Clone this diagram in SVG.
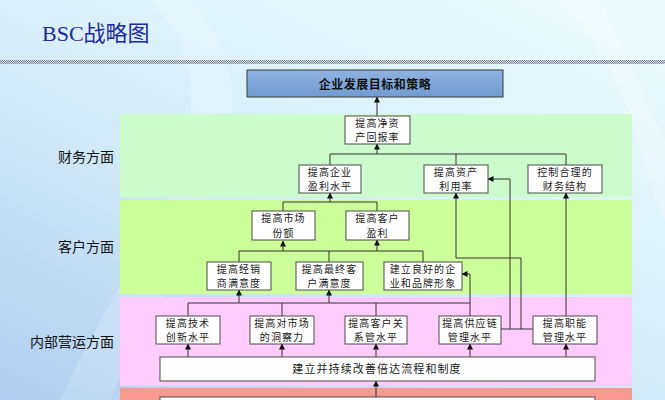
<svg xmlns="http://www.w3.org/2000/svg" width="665" height="400" viewBox="0 0 665 400">
<defs>
<linearGradient id="bg" x1="0" y1="1" x2="0.8" y2="0">
<stop offset="0" stop-color="#aecdf0"/>
<stop offset="0.5" stop-color="#d4ecf8"/>
<stop offset="1" stop-color="#eafafd"/>
</linearGradient>
<linearGradient id="topbox" x1="0" y1="0" x2="0" y2="1">
<stop offset="0" stop-color="#8fb3e2"/>
<stop offset="1" stop-color="#709bd2"/>
</linearGradient>
<pattern id="dots" width="2" height="2" patternUnits="userSpaceOnUse">
<rect width="2" height="2" fill="#d6dde6"/>
<rect width="1" height="1" fill="#7d8696"/>
<rect x="1" y="1" width="1" height="1" fill="#7d8696"/>
</pattern>
<marker id="ah" markerWidth="6" markerHeight="6" refX="5.5" refY="3" orient="auto" markerUnits="userSpaceOnUse">
<path d="M0,0 L6,3 L0,6 Z" fill="#111"/>
</marker>
<style>
.node rect{fill:#fff;stroke:#4a4a4a;stroke-width:1}
.node text{font-family:"Noto Sans CJK SC","Noto Sans",sans-serif;font-size:10px;fill:#222;text-anchor:middle;letter-spacing:1.1px}
.lbl{font-family:"Noto Sans CJK SC","Noto Sans",sans-serif;font-size:14px;fill:#111;text-anchor:end}
#connectors path,#connectors line{fill:none;stroke:#333;stroke-width:1}
.arr{marker-end:url(#ah)}
</style>
</defs>
<rect width="665" height="400" fill="url(#bg)"/>
<path d="M150,0 C260,120 120,260 60,400 L110,400 C170,260 300,120 190,0 Z" fill="#ffffff" opacity="0.18"/>
<path d="M560,0 C640,80 640,180 665,220 L665,140 C640,90 620,40 600,0 Z" fill="#ffffff" opacity="0.25"/>

<text x="42" y="41" font-family="Liberation Serif,'Noto Sans CJK SC',serif" font-size="22" fill="#1c2c9c">BSC战略图</text>
<rect x="0" y="60" width="665" height="4" fill="url(#dots)"/>

<!-- bands -->
<rect x="120" y="114" width="512" height="83" fill="#ccfccc"/>
<rect x="120" y="200" width="512" height="94" fill="#ccff99"/>
<rect x="120" y="297" width="512" height="89" fill="#ffccfc"/>
<rect x="120" y="388" width="512" height="12" fill="#f89a92"/>

<text class="lbl" x="114" y="162">财务方面</text>
<text class="lbl" x="114" y="252">客户方面</text>
<text class="lbl" x="114" y="347">内部营运方面</text>

<g id="connectors">
<line class="arr" x1="377" y1="116" x2="377" y2="97"/>
<path d="M330,165 V154 H566 V165 M456,154 V165"/>
<line class="arr" x1="377" y1="154" x2="377" y2="144"/>
<path d="M283,211 V202 H377 V211"/>
<line class="arr" x1="330" y1="202" x2="330" y2="193"/>
<path d="M239,262 V251 H423 V262 M329,251 V262"/>
<line class="arr" x1="283" y1="251" x2="283" y2="241"/>
<line class="arr" x1="377" y1="251" x2="377" y2="240"/>
<path d="M188,316 V303 H470 M282,303 V316 M376,303 V316"/>
<line class="arr" x1="239" y1="303" x2="239" y2="290"/>
<line class="arr" x1="329" y1="303" x2="329" y2="290"/>
<path class="arr" d="M470,316 V274 H462"/>
<path d="M501,329 H533"/>
<path class="arr" d="M510,329 V179 H488"/>
<path class="arr" d="M521,329 V258 H456 V193"/>
<line class="arr" x1="566" y1="316" x2="566" y2="193"/>
<line class="arr" x1="188" y1="357" x2="188" y2="344"/>
<line class="arr" x1="282" y1="357" x2="282" y2="344"/>
<line class="arr" x1="376" y1="357" x2="376" y2="344"/>
<line class="arr" x1="470" y1="357" x2="470" y2="344"/>
<line class="arr" x1="566" y1="357" x2="566" y2="344"/>
<line class="arr" x1="376" y1="397" x2="376" y2="381"/>
</g>

<g id="top">
<rect x="247" y="70" width="256" height="27" fill="url(#topbox)" stroke="#3a3a3a" stroke-width="1"/>
<text x="375" y="88.5" font-family="'Noto Sans CJK SC',sans-serif" font-size="12" font-weight="bold" fill="#111" text-anchor="middle" letter-spacing="0.5">企业发展目标和策略</text>
</g>

<g id="n1" class="node"><rect x="345" y="116" width="65" height="28"/><text x="377.5" y="126.8">提高净资<tspan x="377.5" dy="14.5">产回报率</tspan></text></g>
<g id="f1" class="node"><rect x="299" y="165" width="62" height="28"/><text x="330" y="175.8">提高企业<tspan x="330" dy="14.5">盈利水平</tspan></text></g>
<g id="f2" class="node"><rect x="424" y="165" width="64" height="28"/><text x="456" y="175.8">提高资产<tspan x="456" dy="14.5">利用率</tspan></text></g>
<g id="f3" class="node"><rect x="528" y="165" width="74" height="28"/><text x="565" y="175.8">控制合理的<tspan x="565" dy="14.5">财务结构</tspan></text></g>

<g id="c1" class="node"><rect x="252" y="211" width="63" height="29"/><text x="283.5" y="222.3">提高市场<tspan x="283.5" dy="14.5">份额</tspan></text></g>
<g id="c2" class="node"><rect x="346" y="211" width="63" height="29"/><text x="377.5" y="222.3">提高客户<tspan x="377.5" dy="14.5">盈利</tspan></text></g>
<g id="c3" class="node"><rect x="207" y="262" width="64" height="28"/><text x="239" y="272.8">提高经销<tspan x="239" dy="14.5">商满意度</tspan></text></g>
<g id="c4" class="node"><rect x="296" y="262" width="67" height="28"/><text x="329.5" y="272.8">提高最终客<tspan x="329.5" dy="14.5">户满意度</tspan></text></g>
<g id="c5" class="node"><rect x="384" y="262" width="78" height="28"/><text x="423" y="272.8">建立良好的企<tspan x="423" dy="14.5">业和品牌形象</tspan></text></g>

<g id="i1" class="node"><rect x="156" y="316" width="64" height="28"/><text x="188" y="326.8">提高技术<tspan x="188" dy="14.5">创新水平</tspan></text></g>
<g id="i2" class="node"><rect x="250" y="316" width="64" height="28"/><text x="282" y="326.8">提高对市场<tspan x="282" dy="14.5">的洞察力</tspan></text></g>
<g id="i3" class="node"><rect x="345" y="316" width="62" height="28"/><text x="376" y="326.8">提高客户关<tspan x="376" dy="14.5">系管水平</tspan></text></g>
<g id="i4" class="node"><rect x="439" y="316" width="62" height="28"/><text x="470" y="326.8">提高供应链<tspan x="470" dy="14.5">管理水平</tspan></text></g>
<g id="i5" class="node"><rect x="533" y="316" width="64" height="28"/><text x="565" y="326.8">提高职能<tspan x="565" dy="14.5">管理水平</tspan></text></g>

<g id="base" class="node"><rect x="160" y="357" width="435" height="24"/><text x="377" y="373" style="font-size:11px">建立并持续改善倍达流程和制度</text></g>
<g id="base2" class="node"><rect x="160" y="397" width="435" height="10"/></g>
</svg>
